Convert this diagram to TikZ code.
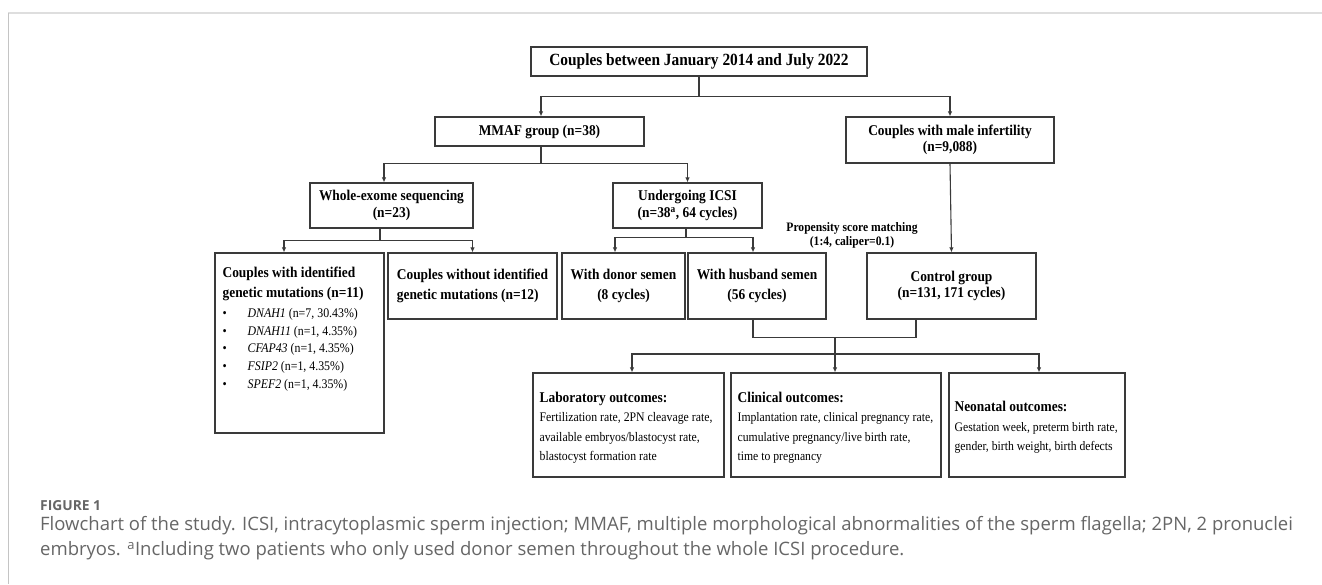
\documentclass[tikz,border=0pt]{standalone}
\usepackage{fontspec}
\setmainfont{Liberation Serif}[FakeStretch=0.9]
\newfontfamily\captionfont{Open Sans}[FakeStretch=1.0]
\usetikzlibrary{arrows.meta,positioning,calc}
\definecolor{framegray}{HTML}{DEDEDE}
\definecolor{edgegray}{HTML}{C4C4C4}
\definecolor{captiongray}{HTML}{666666}
\definecolor{linegray}{HTML}{3A3A3A}

\begin{document}
\begin{tikzpicture}[x=1pt, y=-1pt]
\tikzset{basicbox/.style={draw=linegray, line width=1.2pt, fill=white, align=center, text=black, inner sep=0pt, font=\bfseries\fontsize{14.9}{16.5}\selectfont}, tallbox/.style={basicbox, font=\bfseries\fontsize{14.9}{20.5}\selectfont}, outbox/.style={basicbox, minimum height=104pt}, plaintext/.style={inner sep=0pt, align=left, text=black}, arrowstyle/.style={-{Latex[length=5pt, width=4.5pt]}, line width=1.1pt, linegray}, linkstyle/.style={line width=1.1pt, linegray}}
\useasboundingbox (0,0) rectangle (1322,584);
% frame of the figure
\draw[framegray, line width=2pt] (8,13) -- (1322,13);
\draw[edgegray, line width=1pt] (8.5,13) -- (8.5,584);
% boxes
\node[basicbox, minimum width=336pt, minimum height=29pt, font=\bfseries\fontsize{17.1}{18}\selectfont] (start) at (699,61.5) {Couples between January 2014 and July 2022};
\node[basicbox, minimum width=209pt, minimum height=29pt] (mmaf) at (539.5,131.5) {MMAF group (n=38)};
\node[basicbox, minimum width=208pt, minimum height=46pt] (male) at (950,140) {Couples with male infertility\\(n=9,088)};
\node[basicbox, minimum width=163pt, minimum height=45pt] (wes) at (391.5,205.5) {Whole-exome sequencing\\(n=23)};
\node[basicbox, minimum width=149pt, minimum height=45pt] (icsi) at (687.5,205.5) {Undergoing ICSI\\(n=38\textsuperscript{a}, 64 cycles)};
\node[basicbox, minimum width=169pt, minimum height=180pt] (ident) at (299.5,343) {};
\node[tallbox, minimum width=169pt, minimum height=66pt, align=left] (without) at (472.5,286) {Couples without identified\\genetic mutations (n=12)};
\node[tallbox, minimum width=123pt, minimum height=66pt] (donor) at (623.5,286) {With donor semen\\(8 cycles)};
\node[tallbox, minimum width=138pt, minimum height=66pt] (husband) at (757,286) {With husband semen\\(56 cycles)};
\node[basicbox, minimum width=169pt, minimum height=66pt] (control) at (951.5,286) {Control group\\(n=131, 171 cycles)};
\node[outbox, minimum width=191pt] (lab) at (628.5,425) {};
\node[outbox, minimum width=210pt] (clin) at (836,425) {};
\node[outbox, minimum width=176pt] (neo) at (1037,425) {};
% texts inside boxes
\node[plaintext, anchor=north west, font=\bfseries\fontsize{14.9}{20}\selectfont] (identtitle) at ($(ident.north west)+(8,14.5)$) {Couples with identified\\genetic mutations (n=11)};
\node[plaintext, font=\fontsize{13.2}{17.7}\selectfont, below=7pt of identtitle.south west, anchor=north west] (identlist) {\makebox[25pt][l]{\textbullet}\textit{DNAH1} (n=7, 30.43\%)\\\makebox[25pt][l]{\textbullet}\textit{DNAH11} (n=1, 4.35\%)\\\makebox[25pt][l]{\textbullet}\textit{CFAP43} (n=1, 4.35\%)\\\makebox[25pt][l]{\textbullet}\textit{FSIP2} (n=1, 4.35\%)\\\makebox[25pt][l]{\textbullet}\textit{SPEF2} (n=1, 4.35\%)};
\node[plaintext, anchor=west, font=\fontsize{13.1}{19.5}\selectfont] (labtext) at ($(lab.west)+(7,2.5)$) {{\fontsize{14.9}{19.5}\selectfont\bfseries Laboratory outcomes:}\\Fertilization rate, 2PN cleavage rate,\\available embryos/blastocyst rate,\\blastocyst formation rate};
\node[plaintext, anchor=west, font=\fontsize{13}{19.5}\selectfont] (clintext) at ($(clin.west)+(7,2.5)$) {{\fontsize{14.9}{19.5}\selectfont\bfseries Clinical outcomes:}\\Implantation rate, clinical pregnancy rate,\\cumulative pregnancy/live birth rate,\\time to pregnancy};
\node[plaintext, anchor=west, font=\fontsize{13}{19.5}\selectfont] (neotext) at ($(neo.west)+(6,2.5)$) {{\fontsize{14.9}{19.5}\selectfont\bfseries Neonatal outcomes:}\\Gestation week, preterm birth rate,\\gender, birth weight, birth defects};
\node[font=\bfseries\fontsize{12.9}{14}\selectfont, align=center, inner sep=0pt] (psm) at (852,235) {Propensity score matching\\(1:4, caliper=0.1)};
% connectors
\draw[arrowstyle] (start.south) -- ++(0,20) -| ([xshift=1.5pt]mmaf.north);
\draw[arrowstyle] (start.south) -- ++(0,20) -| (male.north);
\draw[arrowstyle] ([xshift=1.5pt]mmaf.south) -- ++(0,17) -| ([xshift=-7.5pt]wes.north);
\draw[arrowstyle] ([xshift=1.5pt]mmaf.south) -- ++(0,17) -| (icsi.north);
\draw[arrowstyle] ([xshift=-11.5pt]wes.south) -- ++(0,12) -| ([xshift=-15.5pt]ident.north);
\draw[arrowstyle] ([xshift=-11.5pt]wes.south) -- ++(0,12) -| (without.north);
\draw[arrowstyle] ([xshift=-1.5pt]icsi.south) -- ++(0,9) -| ([xshift=-8.5pt]donor.north);
\draw[arrowstyle] ([xshift=-1.5pt]icsi.south) -- ++(0,9) -| ([xshift=-4pt]husband.north);
\draw[arrowstyle] (male.south) -- (control.north);
\draw[linkstyle] ([xshift=-4pt]husband.south) -- ++(0,18) -| ([xshift=-35.5pt]control.south);
\coordinate (merge) at (835,337);
\draw[arrowstyle] (merge) -- ++(0,17) -| ([xshift=3.5pt]lab.north);
\draw[arrowstyle] (merge) -- (clin.north -| merge);
\draw[arrowstyle] (merge) -- ++(0,17) -| ([xshift=2pt]neo.north);
% caption
\node[anchor=west, inner sep=0pt, text=captiongray, font=\captionfont\bfseries\fontsize{13.8}{14}\selectfont] (figlabel) at (40,506) {FIGURE 1};
\node[anchor=north west, inner sep=0pt, align=left, text=captiongray, font=\captionfont\fontsize{18.5}{25}\selectfont] (caption) at (40,516) {Flowchart of the study. ICSI, intracytoplasmic sperm injection; MMAF, multiple morphological abnormalities of the sperm flagella; 2PN, 2 pronuclei\\embryos. \textsuperscript{a}Including two patients who only used donor semen throughout the whole ICSI procedure.};
\end{tikzpicture}
\end{document}
